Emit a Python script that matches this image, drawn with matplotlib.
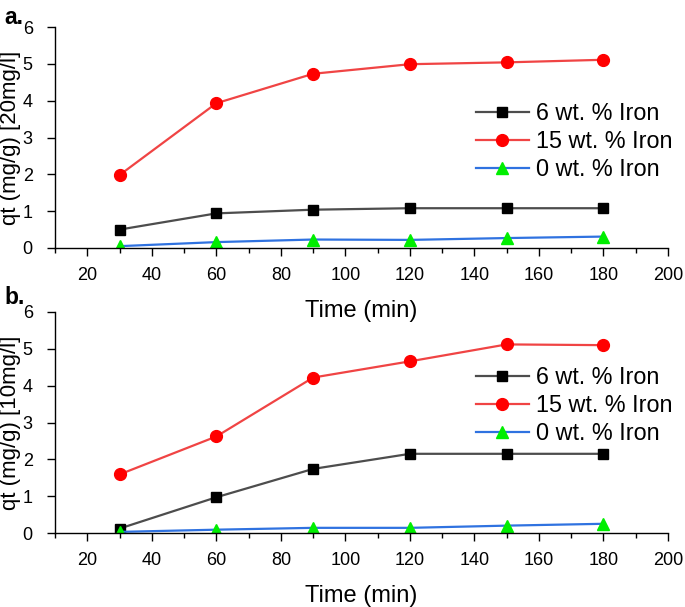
import matplotlib
matplotlib.use("Agg")
import matplotlib.pyplot as plt
from matplotlib.ticker import MultipleLocator

plt.rcParams['font.family'] = ['Liberation Sans', 'DejaVu Sans']

time = [30, 60, 90, 120, 150, 180]
labels = ["6 wt. % Iron", "15 wt. % Iron", "0 wt. % Iron"]

# panel a (20 mg/l)
a_6 = [0.50, 0.94, 1.04, 1.08, 1.08, 1.08]
a_15 = [1.98, 3.93, 4.73, 4.99, 5.04, 5.11]
a_0 = [0.05, 0.16, 0.23, 0.22, 0.27, 0.31]

# panel b (10 mg/l)
b_6 = [0.12, 0.97, 1.74, 2.15, 2.15, 2.15]
b_15 = [1.59, 2.62, 4.22, 4.66, 5.12, 5.10]
b_0 = [0.03, 0.09, 0.14, 0.14, 0.20, 0.25]

W, H = 685, 607
fig = plt.figure(figsize=(W / 100, H / 100), dpi=100)

def fx(px):
    return px / W

def fy(py):
    return 1 - py / H

ax_a = fig.add_axes([fx(55), fy(248), fx(668 - 55), fy(27) - fy(248)])
ax_b = fig.add_axes([fx(55), fy(533), fx(668 - 55), fy(312) - fy(533)])

def draw(ax, s6, s15, s0, ylabel, leg_y):
    ax.patch.set_visible(False)
    ax.plot(time, s6, color='#4d4d4d', lw=1.6, marker='s', ms=7.5,
            mfc='black', mec='black', label=labels[0])
    ax.plot(time, s15, color='#f04444', lw=1.6, marker='o', ms=8.5,
            mfc='#ff0000', mec='#ff0000', label=labels[1])
    ax.plot(time, s0, color='#2f72e0', lw=1.6, marker='^', ms=9,
            mfc='#00ee00', mec='#00ee00', label=labels[2])
    ax.set_xlim(10, 200)
    ax.set_ylim(0, 6)
    ax.xaxis.set_major_locator(MultipleLocator(20))
    ax.xaxis.set_minor_locator(MultipleLocator(10))
    ax.yaxis.set_major_locator(MultipleLocator(1))
    for s in ['top', 'right']:
        ax.spines[s].set_visible(False)
    for s in ['left', 'bottom']:
        ax.spines[s].set_linewidth(1.0)
    ax.tick_params(which='major', direction='out', length=6, width=1.0,
                   labelsize=13)
    ax.tick_params(axis='x', which='major', pad=8)
    ax.tick_params(axis='y', which='major', pad=10)
    ax.tick_params(which='minor', direction='out', length=3.5, width=1.0)
    ax.set_xlabel('Time (min)', fontsize=17, labelpad=11)
    ax.set_ylabel(ylabel, fontsize=16, labelpad=1)
    ax.legend(loc='upper left', bbox_to_anchor=(fx(476), fy(leg_y)),
              bbox_transform=fig.transFigure, frameon=False, fontsize=16.8,
              handlelength=2.25, handletextpad=0.3, labelspacing=0.22,
              borderpad=0, borderaxespad=0)

draw(ax_a, a_6, a_15, a_0, 'qt (mg/g) [20mg/l]', 102)
draw(ax_b, b_6, b_15, b_0, 'qt (mg/g) [10mg/l]', 366)

fig.text(fx(4), fy(17), 'a.', fontsize=16.5, fontweight='bold', va='center', ha='left')
fig.text(fx(4), fy(297), 'b.', fontsize=16.5, fontweight='bold', va='center', ha='left')

fig.savefig('out.png', dpi=100)
